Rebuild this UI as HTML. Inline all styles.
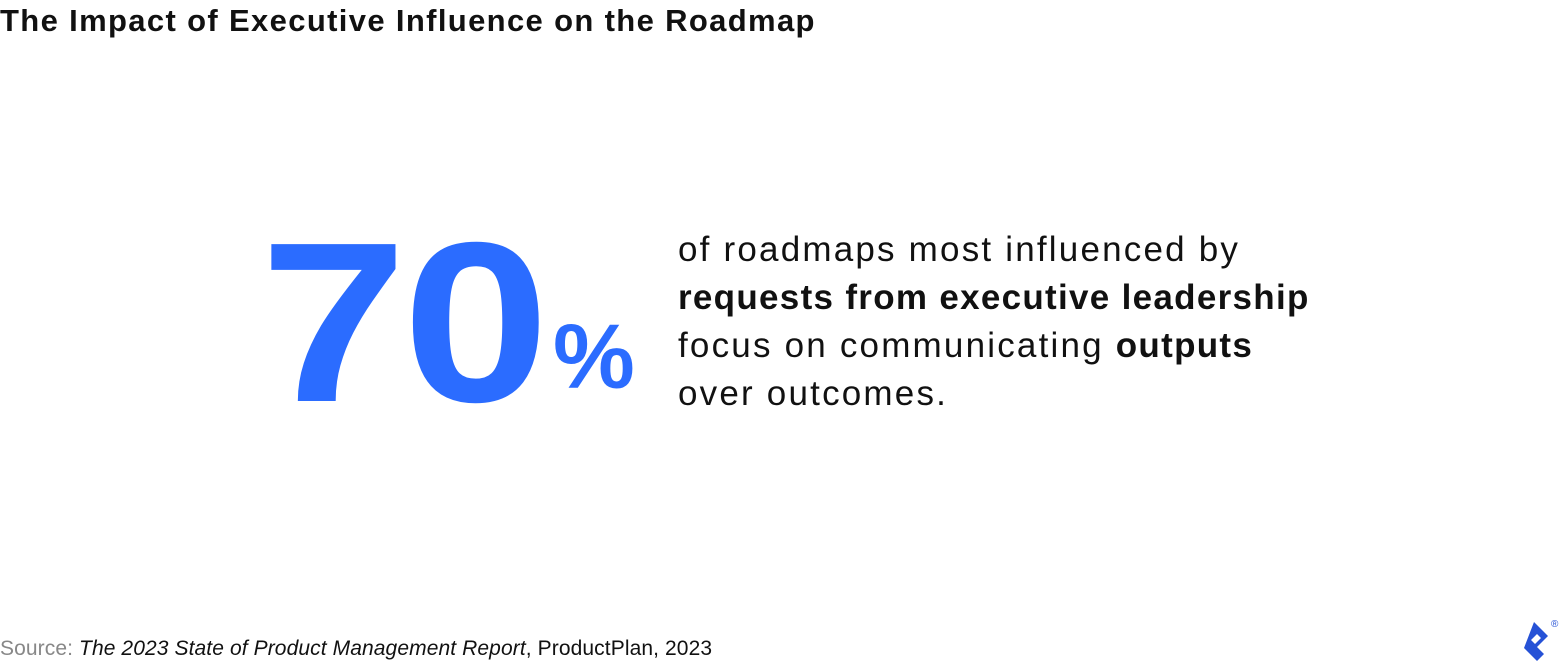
<!DOCTYPE html>
<html><head><meta charset="utf-8"><style>
body{margin:0;width:1560px;height:663px;background:#fff;position:relative;overflow:hidden;font-family:"Liberation Sans",sans-serif;color:#111}
.t{position:absolute;left:0;top:3px;font-size:31px;font-weight:bold;letter-spacing:1.35px;white-space:nowrap}
.big{position:absolute;left:260px;top:209px;font-size:228px;font-weight:bold;color:#2b6cff;line-height:1;letter-spacing:-4px;transform:scaleX(1.16);transform-origin:0 0}
.pct{position:absolute;left:553px;top:311px;font-size:92px;font-weight:bold;color:#2b6cff;line-height:1}
.txt{position:absolute;left:678px;top:226px;font-size:35px;line-height:48px;letter-spacing:2.2px;white-space:nowrap}
.txt b{letter-spacing:1.3px}
.src{position:absolute;left:0;top:637px;font-size:21px;white-space:nowrap;letter-spacing:0.1px}
</style></head><body>
<div class="t">The Impact of Executive Influence on the Roadmap</div>
<div class="big">70</div>
<div class="pct">%</div>
<div class="txt">of roadmaps most influenced by<br><b>requests from executive leadership</b><br>focus on communicating <b>outputs</b><br>over outcomes.</div>
<div class="src"><span style="color:#888">Source:</span> <i>The 2023 State of Product Management Report</i>, ProductPlan, 2023</div>
<svg style="position:absolute;left:1515px;top:615px" width="45" height="48" viewBox="0 0 45 48">
<path d="M19 7L33 21L22 32L29 39L22 46L9 33ZM22 19L26 23L20 29L16 25Z" fill="#2652d6" fill-rule="evenodd"/>
<text x="36" y="12" font-size="10" fill="#2652d6" font-family="Liberation Sans">®</text>
</svg>
</body></html>
